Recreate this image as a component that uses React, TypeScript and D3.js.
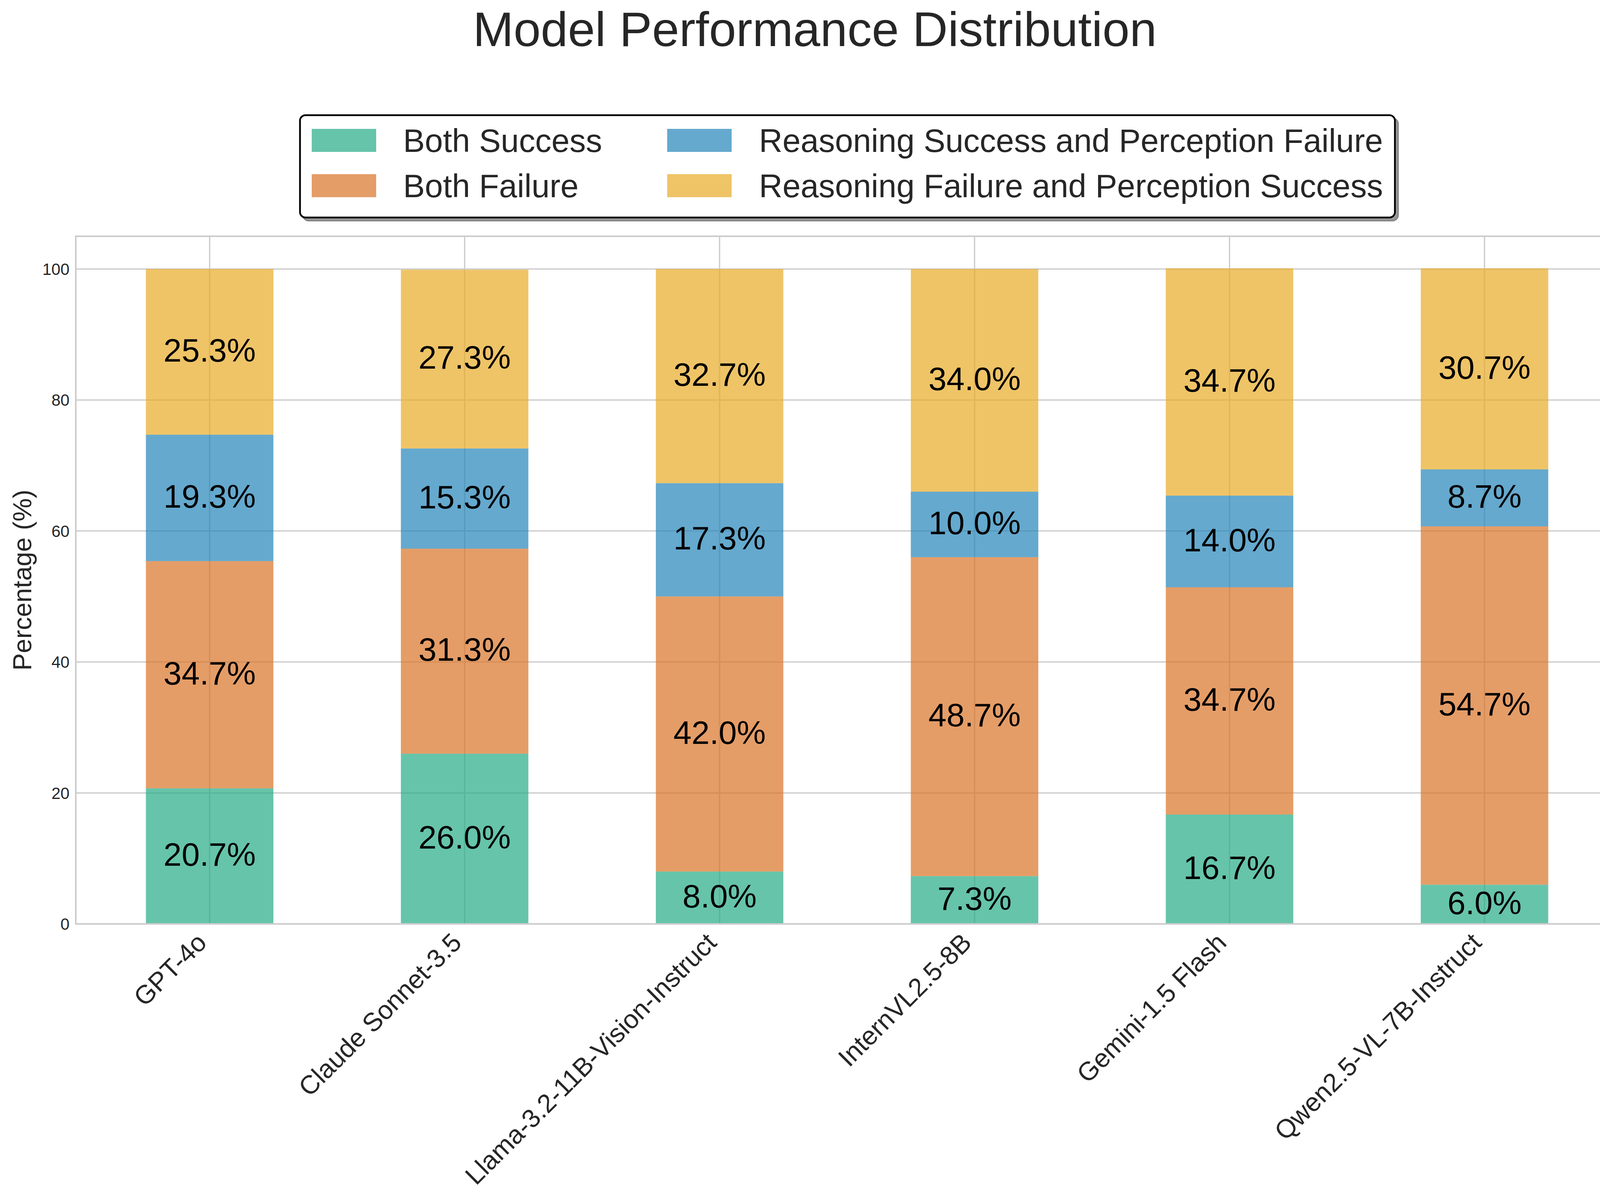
import React from "react";
import * as d3 from "d3";

const categories = [
  "GPT-4o",
  "Claude Sonnet-3.5",
  "Llama-3.2-11B-Vision-Instruct",
  "InternVL2.5-8B",
  "Gemini-1.5 Flash",
  "Qwen2.5-VL-7B-Instruct",
];
const seriesNames = [
  "Both Success",
  "Both Failure",
  "Reasoning Success and Perception Failure",
  "Reasoning Failure and Perception Success",
];
const bothSuccess = [20.7, 26.0, 8.0, 7.3, 16.7, 6.0];
const bothFailure = [34.7, 31.3, 42.0, 48.7, 34.7, 54.7];
const reasonSuccPercFail = [19.3, 15.3, 17.3, 10.0, 14.0, 8.7];
const reasonFailPercSucc = [25.3, 27.3, 32.7, 34.0, 34.7, 30.7];
const yTicks = [0, 20, 40, 60, 80, 100];
const seriesColors = ["#25ab86", "#da7327", "#2484b9", "#e8ab26"];

const W = 4172;
const H = 3073;
const FONT = "'Liberation Sans', Arial, Helvetica, sans-serif";
const TXT = "#262626";

export default function App() {
  const left = 194;
  const right = 4143;
  const top = 605;
  const bottom = 2366;
  const x = d3.scaleLinear().domain([-0.525, 5.525]).range([left, right]);
  const y = d3.scaleLinear().domain([0, 105]).range([bottom, top]);
  const barW = x(0.5) - x(0);

  const keys = ["bs", "bf", "rspf", "rfps"];
  const table = categories.map((c, i) => ({
    cat: c,
    idx: i,
    bs: bothSuccess[i],
    bf: bothFailure[i],
    rspf: reasonSuccPercFail[i],
    rfps: reasonFailPercSucc[i],
  }));
  const stacked = d3.stack<any>().keys(keys)(table);

  const fsLabel = 83.3;
  const fsTick = 66.7;
  const fsY = 41.7;
  const fsLegend = 83.3;

  // legend layout
  const lgX = 768, lgY = 295, lgW = 2803, lgH = 262;
  const colMarkerX = [798, 1708];
  const colTextX = [1032, 1943];
  const rowBase = [389, 505];
  const mW = 165, mH = 59;
  const legendOrder = [0, 2, 1, 3]; // column-major: col0 rows 0,1 ; col1 rows 0,1
  const legendPos = [
    { col: 0, row: 0 },
    { col: 0, row: 1 },
    { col: 1, row: 0 },
    { col: 1, row: 1 },
  ];

  return (
    <div style={{ position: "absolute", left: 0, top: 0 }}>
      <svg width={W} height={H} xmlns="http://www.w3.org/2000/svg" style={{ display: "block", fontFamily: FONT }}>
        <rect x={0} y={0} width={W} height={H} fill="#ffffff" />
        {/* title */}
        <text x={2086} y={118} fontSize={125} fill={TXT} textAnchor="middle">
          Model Performance Distribution
        </text>

        {/* grid */}
        {yTicks.map((t) => (
          <line key={"gy" + t} x1={left} x2={right} y1={y(t)} y2={y(t)} stroke="#cccccc" strokeWidth={3.3} />
        ))}
        {categories.map((c, i) => (
          <line key={"gx" + i} x1={x(i)} x2={x(i)} y1={top} y2={bottom} stroke="#cccccc" strokeWidth={3.3} />
        ))}

        {/* bars */}
        {stacked.map((s, si) => (
          <g key={"s" + si} fill={seriesColors[si]} fillOpacity={0.7}>
            {s.map((d: any, i: number) => (
              <rect
                key={i}
                x={x(i) - barW / 2}
                width={barW}
                y={y(d[1])}
                height={y(d[0]) - y(d[1])}
              />
            ))}
          </g>
        ))}

        {/* bar labels */}
        {stacked.map((s, si) => (
          <g key={"l" + si}>
            {s.map((d: any, i: number) => {
              const v = d[1] - d[0];
              const cy = y((d[0] + d[1]) / 2);
              return (
                <text key={i} x={x(i)} y={cy + 0.3 * fsLabel} fontSize={fsLabel} fill="#000000" textAnchor="middle">
                  {v.toFixed(1)}%
                </text>
              );
            })}
          </g>
        ))}

        {/* spines */}
        <rect x={left} y={top} width={right - left} height={bottom - top} fill="none" stroke="#cccccc" strokeWidth={4} />

        {/* y ticks */}
        {yTicks.map((t) => (
          <text key={"yt" + t} x={178} y={y(t) + 0.36 * fsY} fontSize={fsY} fill={TXT} textAnchor="end">
            {t}
          </text>
        ))}
        <text
          transform={`translate(80, ${(top + bottom) / 2}) rotate(-90)`}
          fontSize={66.7}
          fill={TXT}
          textAnchor="middle"
        >
          Percentage (%)
        </text>

        {/* x ticks */}
        {categories.map((c, i) => (
          <text
            key={"xt" + i}
            transform={`translate(${x(i) - 4}, ${bottom + 52}) rotate(-45)`}
            fontSize={fsTick}
            fill={TXT}
            textAnchor="end"
          >
            {c}
          </text>
        ))}

        {/* legend */}
        <rect x={lgX + 8} y={lgY + 8} width={lgW} height={lgH} rx={14} fill="#999999" stroke="#888888" strokeWidth={4} />
        <rect x={lgX} y={lgY} width={lgW} height={lgH} rx={14} fill="#ffffff" stroke="#000000" strokeWidth={4.5} />
        {seriesNames.map((n, si) => {
          const p = legendPos[si === 0 ? 0 : si === 1 ? 1 : si === 2 ? 2 : 3];
          return (
            <g key={"lg" + si}>
              <rect
                x={colMarkerX[p.col]}
                y={rowBase[p.row] - mH}
                width={mW}
                height={mH}
                fill={seriesColors[si]}
                fillOpacity={0.7}
              />
              <text x={colTextX[p.col]} y={rowBase[p.row]} fontSize={fsLegend} fill={TXT}>
                {n}
              </text>
            </g>
          );
        })}
      </svg>
    </div>
  );
}
